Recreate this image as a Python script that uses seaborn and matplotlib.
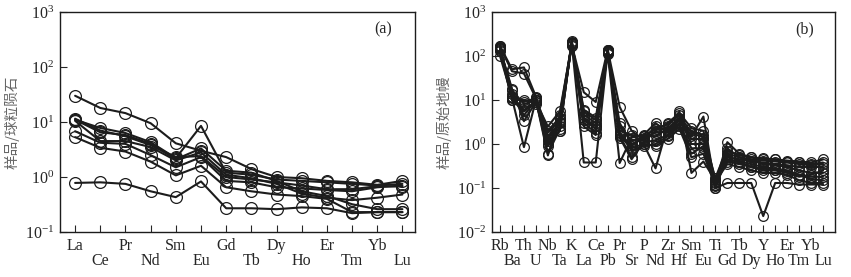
# -*- coding: utf-8 -*-
"""Diagramas de REE (a) e multielementos (b) normalizados."""

import pandas as pd
import numpy as np
import matplotlib
matplotlib.use("Agg")
import matplotlib.pyplot as plt
import seaborn as sns
from matplotlib.ticker import LogLocator, LogFormatterSciNotation, NullLocator

# --- dados (a): normalizado ao condrito ---
ree = ['La', 'Ce', 'Pr', 'Nd', 'Sm', 'Eu', 'Gd', 'Tb', 'Dy', 'Ho', 'Er', 'Tm', 'Yb', 'Lu']
a1 = [30, 18, 14.5, 9.5, 4.1, 3.0, 2.3, 1.4, 1.0, 0.95, 0.85, 0.8, 0.72, 0.85]
a2 = [11, 7.8, 6.3, 4.3, 2.2, 8.5, 1.2, 1.1, 0.9, 0.85, 0.8, 0.75, 0.7, 0.75]
a3 = [11, 6.5, 5.8, 4.0, 2.1, 3.3, 1.3, 1.2, 0.85, 0.55, 0.45, 0.32, 0.26, 0.26]
a4 = [10.5, 4.5, 4.5, 3.5, 2.0, 2.8, 1.1, 0.95, 0.75, 0.5, 0.42, 0.38, 0.42, 0.48]
a5 = [6.8, 4.2, 4.0, 2.5, 1.5, 2.3, 0.85, 0.8, 0.65, 0.62, 0.58, 0.55, 0.65, 0.7]
a6 = [5.3, 3.4, 2.9, 1.9, 1.07, 1.6, 0.65, 0.55, 0.48, 0.45, 0.4, 0.23, 0.23, 0.23]
a7 = [0.78, 0.8, 0.75, 0.55, 0.43, 0.83, 0.27, 0.27, 0.26, 0.28, 0.27, 0.22, 0.23, 0.23]
a8 = [11.5, 7.0, 5.5, 3.8, 2.3, 2.4, 1.0, 0.9, 0.8, 0.7, 0.6, 0.6, 0.68, 0.67]
series_a = [a1, a2, a3, a4, a5, a6, a7, a8]

# --- dados (b): normalizado ao manto primitivo ---
elem = ['Rb', 'Ba', 'Th', 'U', 'Nb', 'Ta', 'K', 'La', 'Ce', 'Pb', 'Pr', 'Sr', 'P', 'Nd',
        'Zr', 'Hf', 'Sm', 'Eu', 'Ti', 'Gd', 'Tb', 'Dy', 'Y', 'Ho', 'Er', 'Tm', 'Yb', 'Lu']
b1 = [150, 11, 0.85, 10, 0.55, 4.5, 200, 5.5, 3.5, 130, 2.5, 1.2, 1.4, 1.8,
      2.0, 3.5, 1.3, 1.3, 0.12, 0.5, 0.45, 0.4, 0.38, 0.35, 0.33, 0.3, 0.3, 0.3]
b2 = [170, 50, 55, 12, 1.2, 2.0, 220, 4.0, 2.5, 135, 1.8, 0.9, 1.5, 1.5,
      2.2, 4.0, 1.5, 4.2, 0.1, 0.6, 0.5, 0.45, 0.42, 0.4, 0.38, 0.35, 0.33, 0.35]
b3 = [160, 45, 40, 11, 0.6, 2.2, 200, 3.5, 2.2, 125, 1.5, 0.5, 1.0, 0.28,
      2.5, 5.5, 0.22, 0.4, 0.15, 0.4, 0.35, 0.3, 0.28, 0.26, 0.24, 0.2, 0.18, 0.18]
b4 = [140, 17, 8, 10, 1.5, 3.0, 190, 0.38, 0.38, 120, 0.37, 1.4, 1.6, 3.0,
      1.8, 3.0, 2.0, 1.6, 0.13, 1.1, 0.6, 0.5, 0.45, 0.45, 0.42, 0.4, 0.38, 0.45]
b5 = [130, 10, 10, 9, 2.5, 5.5, 180, 15, 9, 140, 7, 2.0, 1.2, 2.0,
      3.0, 5.0, 2.3, 2.0, 0.15, 0.7, 0.55, 0.5, 0.47, 0.45, 0.4, 0.38, 0.35, 0.38]
b6 = [100, 12, 6, 8, 1.8, 3.5, 170, 3.0, 1.8, 110, 1.4, 0.45, 1.1, 1.2,
      1.6, 2.8, 0.8, 0.8, 0.1, 0.13, 0.13, 0.13, 0.023, 0.13, 0.13, 0.12, 0.12, 0.12]
b7 = [150, 14, 4.5, 10, 1.0, 2.5, 200, 6.0, 4.0, 130, 3.0, 1.0, 1.3, 2.5,
      2.0, 3.8, 1.0, 1.0, 0.12, 0.55, 0.4, 0.35, 0.3, 0.28, 0.25, 0.2, 0.16, 0.15]
b8 = [145, 18, 3.3, 9, 0.9, 2.0, 210, 2.5, 1.6, 128, 1.8, 0.7, 0.9, 1.0,
      1.5, 2.5, 0.6, 0.9, 0.14, 0.35, 0.3, 0.25, 0.22, 0.22, 0.2, 0.15, 0.13, 0.13]
b9 = [165, 12, 9, 11, 2.0, 4.0, 200, 4.6, 3.0, 135, 2.0, 1.6, 1.5, 2.2,
      2.8, 4.5, 1.8, 1.4, 0.17, 0.8, 0.5, 0.42, 0.35, 0.33, 0.3, 0.25, 0.22, 0.22]
b10 = [155, 10, 5.5, 10, 1.3, 3.2, 195, 3.6, 2.6, 122, 1.6, 0.8, 1.0, 0.9,
       1.3, 2.2, 0.5, 0.6, 0.11, 0.45, 0.38, 0.3, 0.25, 0.25, 0.22, 0.18, 0.2, 0.25]
series_b = [b1, b2, b3, b4, b5, b6, b7, b8, b9, b10]


def montar_df(nomes, series):
    linhas = []
    for s, valores in enumerate(series):
        for i, v in enumerate(valores):
            linhas.append({'pos': i, 'valor': v, 'amostra': s})
    return pd.DataFrame(linhas)


def desenhar(ax, nomes, series, ms, ylim, xlim, rotulo, painel):
    df = montar_df(nomes, series)
    ax.set_yscale('log')
    sns.lineplot(data=df, x='pos', y='valor', units='amostra', estimator=None,
                 color='#1c1c1c', lw=1.5, marker='o', ms=ms, mfc='none',
                 mec='#1c1c1c', mew=0.9, ax=ax, legend=False)
    ax.set_ylim(*ylim)
    ax.set_xlim(*xlim)

    # rótulos alternados em duas linhas
    pos = np.arange(len(nomes))
    ax.set_xticks(pos[::2])
    ax.set_xticklabels(nomes[::2])
    ax.set_xticks(pos[1::2], minor=True)
    ax.set_xticklabels(nomes[1::2], minor=True)
    ax.tick_params(axis='x', which='both', direction='in', length=5, width=0.8,
                   labelsize=11.5, top=False)
    ax.tick_params(axis='x', which='major', pad=4)
    ax.tick_params(axis='x', which='minor', pad=15)

    ax.yaxis.set_major_locator(LogLocator(base=10, numticks=10))
    ax.yaxis.set_major_formatter(LogFormatterSciNotation())
    ax.yaxis.set_minor_locator(NullLocator())
    ax.tick_params(axis='y', direction='in', length=5, width=0.8, labelsize=11.5, pad=4)

    ax.set_xlabel('')
    ax.set_ylabel(rotulo, fontsize=10.5, color='#666666',
                  family=['Noto Sans CJK SC', 'DejaVu Sans'], labelpad=4)
    ax.text(0.91, 0.92, painel, transform=ax.transAxes, ha='center', va='center',
            fontsize=11.5)
    for sp in ax.spines.values():
        sp.set_linewidth(1.0)
        sp.set_color('#1c1c1c')


def principal():
    sns.set_style('ticks')
    plt.rcParams['font.family'] = ['Liberation Serif', 'Noto Sans CJK SC']
    plt.rcParams['mathtext.fontset'] = 'custom'
    plt.rcParams['mathtext.rm'] = 'Liberation Serif'
    plt.rcParams['mathtext.it'] = 'Liberation Serif:italic'

    W, H = 851, 277
    fig = plt.figure(figsize=(W / 100, H / 100), dpi=100)
    ax_a = fig.add_axes([60 / W, 45 / H, 355 / W, 220 / H])
    ax_b = fig.add_axes([492 / W, 45 / H, 343 / W, 220 / H])

    desenhar(ax_a, ree, series_a, 8.5, (0.1, 1000), (-0.6, 13.5), '样品/球粒陨石', '(a)')
    desenhar(ax_b, elem, series_b, 7, (0.01, 1000), (-0.67, 28.0), '样品/原始地幔', '(b)')

    fig.savefig('out.png', dpi=100)


if __name__ == "__main__":
    principal()
